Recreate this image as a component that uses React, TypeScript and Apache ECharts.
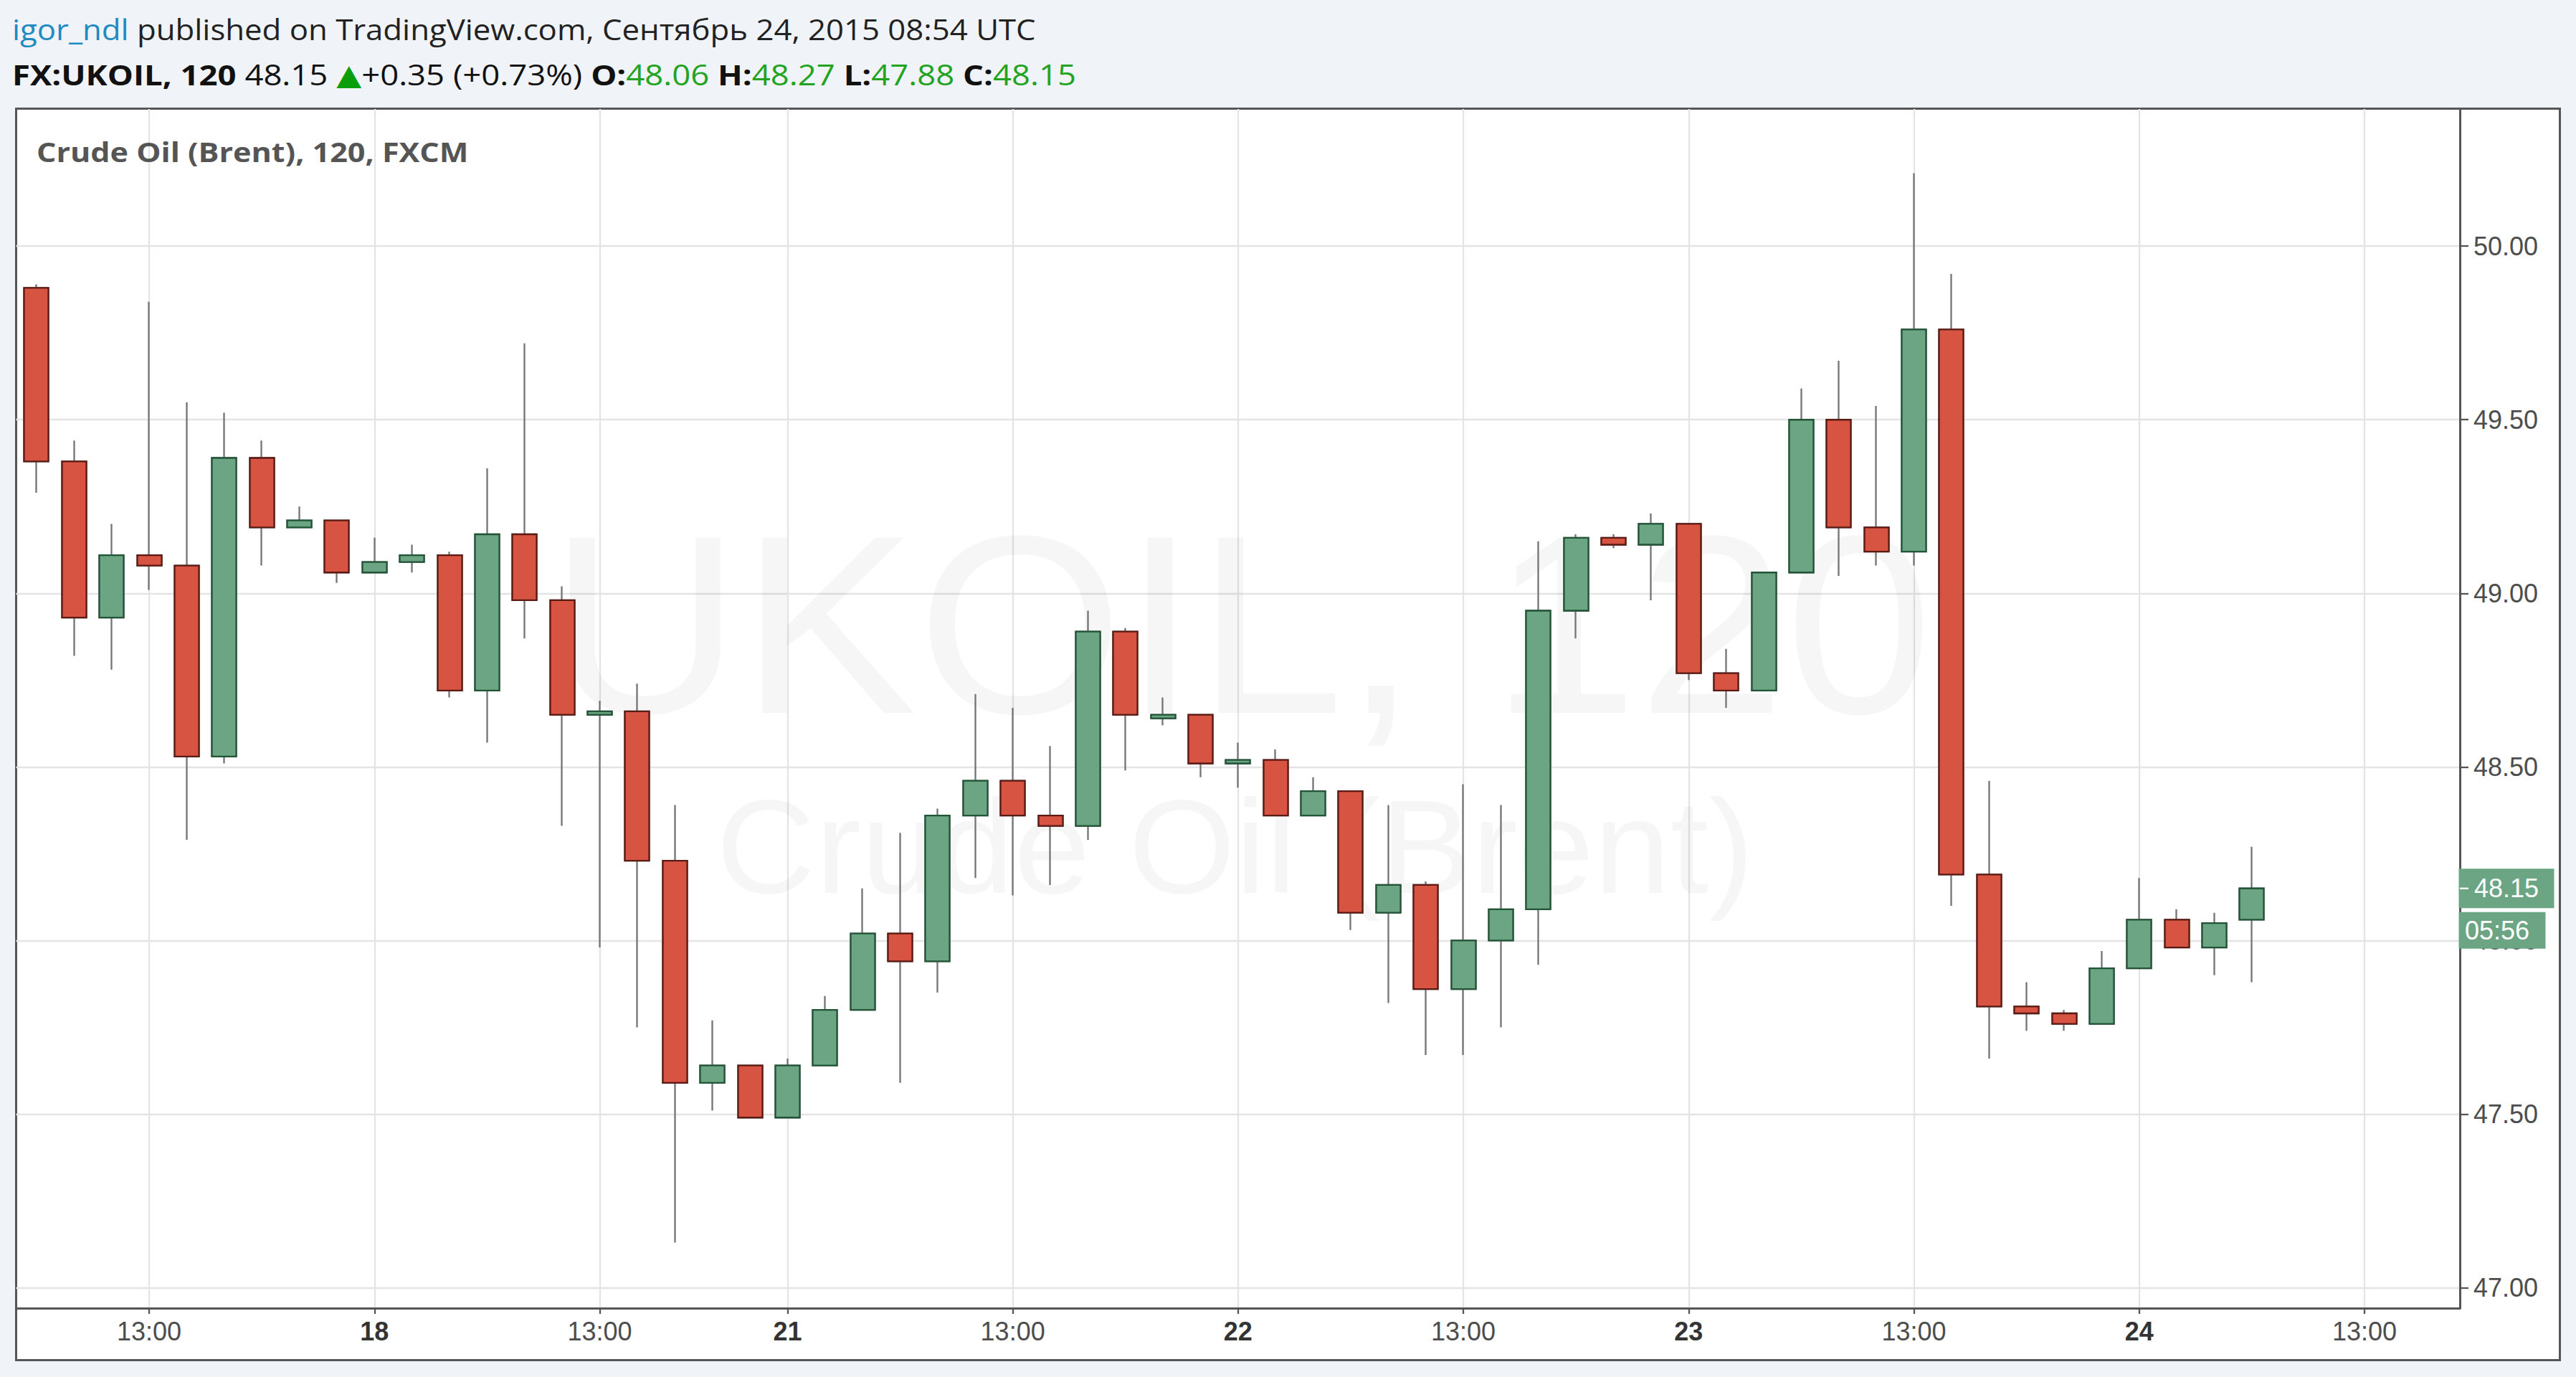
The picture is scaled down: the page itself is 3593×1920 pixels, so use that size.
import React, { useEffect, useRef } from 'react';
import * as echarts from 'echarts';

// ---- data (2h candles, FX:UKOIL) ----
const OPEN = [
  49.88, 49.38, 48.93, 49.11, 49.08, 48.53, 49.39, 49.19, 49.21, 49.06,
  49.09, 49.11, 48.72, 49.17, 48.98, 48.65, 48.66, 48.23, 47.59, 47.64,
  47.49, 47.64, 47.80, 48.02, 47.94, 48.36, 48.46, 48.36, 48.33, 48.89,
  48.64, 48.65, 48.51, 48.52, 48.36, 48.43, 48.08, 48.16, 47.86, 48.00,
  48.09, 48.95, 49.16, 49.14, 49.20, 48.77, 48.72, 49.06, 49.50, 49.19,
  49.12, 49.76, 48.19, 47.81, 47.79, 47.76, 47.92, 48.06, 47.98, 48.06,
];
const CLOSE = [
  49.38, 48.93, 49.11, 49.08, 48.53, 49.39, 49.19, 49.21, 49.06, 49.09,
  49.11, 48.72, 49.17, 48.98, 48.65, 48.66, 48.23, 47.59, 47.64, 47.49,
  47.64, 47.80, 48.02, 47.94, 48.36, 48.46, 48.36, 48.33, 48.89, 48.65,
  48.65, 48.51, 48.52, 48.36, 48.43, 48.08, 48.16, 47.86, 48.00, 48.09,
  48.95, 49.16, 49.14, 49.20, 48.77, 48.72, 49.06, 49.50, 49.19, 49.12,
  49.76, 48.19, 47.81, 47.79, 47.76, 47.92, 48.06, 47.98, 48.05, 48.15,
];
const LOW = [
  49.29, 48.82, 48.78, 49.01, 48.29, 48.51, 49.08, 49.19, 49.03, 49.06,
  49.06, 48.70, 48.57, 48.87, 48.33, 47.98, 47.75, 47.13, 47.51, 47.49,
  47.49, 47.64, 47.80, 47.59, 47.85, 48.18, 48.13, 48.16, 48.29, 48.49,
  48.62, 48.47, 48.44, 48.36, 48.36, 48.03, 47.82, 47.67, 47.67, 47.75,
  47.93, 48.87, 49.13, 48.98, 48.75, 48.67, 48.72, 49.06, 49.05, 49.08,
  49.08, 48.10, 47.66, 47.74, 47.74, 47.76, 47.92, 47.98, 47.90, 47.88,
];
const HIGH = [
  49.89, 49.44, 49.20, 49.84, 49.55, 49.52, 49.44, 49.25, 49.21, 49.16,
  49.14, 49.12, 49.36, 49.72, 49.02, 48.69, 48.74, 48.39, 47.77, 47.64,
  47.66, 47.84, 48.15, 48.31, 48.38, 48.71, 48.67, 48.56, 48.95, 48.90,
  48.70, 48.65, 48.57, 48.55, 48.47, 48.43, 48.39, 48.17, 48.45, 48.39,
  49.15, 49.17, 49.17, 49.23, 49.20, 48.84, 49.06, 49.59, 49.67, 49.54,
  50.21, 49.92, 48.46, 47.88, 47.80, 47.97, 48.18, 48.09, 48.08, 48.27,
];

// time-axis tick labels (bar index -> label)
const TICK_INDEX = [3, 9, 15, 20, 26, 32, 38, 44, 50, 56, 62];
const TICK_LABELS = ['13:00', '18', '13:00', '21', '13:00', '22', '13:00', '23', '13:00', '24', '13:00'];
const DAY_LABELS = ['18', '21', '22', '23', '24'];
const PRICE_TICKS = [47, 47.5, 48, 48.5, 49, 49.5, 50];

const X_MIN = -0.544;
const X_MAX = 64.54;
const Y_MIN = 46.941;
const Y_MAX = 50.395;

const AUTHOR = 'igor_ndl';
const PUBLISHED = 'published on TradingView.com, Сентябрь 24, 2015 08:54 UTC';
const SYMBOL = 'FX:UKOIL, 120';
const CHANGE = '+0.35 (+0.73%)';
const LEGEND = 'Crude Oil (Brent), 120, FXCM';
const COUNTDOWN = '05:56';
const WATERMARK1 = 'UKOIL, 120';
const WATERMARK2 = 'Crude Oil (Brent)';

// ---- styles ----
const UP_FILL = '#6ba583';
const UP_BORDER = '#225437';
const DOWN_FILL = '#d75442';
const DOWN_BORDER = '#5b1a13';
const WICK = '#737375';
const GRID = '#e4e4e4';
const AXIS = '#555555';
const LABEL = '#4d4d4d';
const PAGE_BG = '#f0f3f7';
const AXIS_FONT = '"Liberation Sans", Arial, sans-serif';
const HEAD_FONT = '"Open Sans", "Noto Sans", sans-serif';

export default function App() {
  const ref = useRef<HTMLDivElement>(null);

  useEffect(() => {
    if (!ref.current) return;
    const chart = echarts.init(ref.current, undefined, { renderer: 'svg' });
    const n = OPEN.length;
    const last = n - 1;
    const wickData = OPEN.map((o, i) => [i, o, CLOSE[i], LOW[i], HIGH[i]]);
    const bodyData = OPEN.map((o, i) => [i, o, CLOSE[i], Math.min(o, CLOSE[i]), Math.max(o, CLOSE[i])]);

    const option: any = {
      animation: false,
      backgroundColor: 'transparent',
      textStyle: { fontFamily: AXIS_FONT },
      grid: { left: 22.5, right: 162, top: 152, bottom: 96, containLabel: false },
      xAxis: {
        type: 'value',
        min: X_MIN,
        max: X_MAX,
        axisLine: { show: true, onZero: false, lineStyle: { color: AXIS, width: 3 } },
        axisTick: { show: true, length: 8, customValues: TICK_INDEX, lineStyle: { color: AXIS, width: 2.3 } },
        axisLabel: {
          customValues: TICK_INDEX,
          margin: 14,
          fontSize: 36,
          color: LABEL,
          fontFamily: AXIS_FONT,
          formatter: (v: number) => {
            const k = TICK_INDEX.indexOf(Math.round(v));
            if (k < 0) return '';
            const t = TICK_LABELS[k];
            return DAY_LABELS.indexOf(t) >= 0 ? '{d|' + t + '}' : t;
          },
          rich: { d: { fontSize: 36, fontWeight: 'bold', color: '#333333', fontFamily: AXIS_FONT } },
        },
        splitLine: { show: true, lineStyle: { color: GRID, width: 2.3 } },
      },
      yAxis: {
        type: 'value',
        position: 'right',
        min: Y_MIN,
        max: Y_MAX,
        axisLine: { show: true, onZero: false, lineStyle: { color: AXIS, width: 3 } },
        axisTick: { show: true, length: 12, customValues: PRICE_TICKS, lineStyle: { color: AXIS, width: 2.3 } },
        axisLabel: {
          customValues: PRICE_TICKS,
          margin: 19,
          fontSize: 36,
          color: LABEL,
          fontFamily: AXIS_FONT,
          formatter: (v: number) => (Math.abs(v * 2 - Math.round(v * 2)) < 1e-6 ? v.toFixed(2) : ''),
        },
        splitLine: { show: true, lineStyle: { color: GRID, width: 2.3 } },
      },
      series: [
        {
          type: 'candlestick',
          data: wickData,
          barWidth: 34.5,
          silent: true,
          z: 2,
          itemStyle: { color: UP_FILL, color0: DOWN_FILL, borderColor: WICK, borderColor0: WICK, borderColorDoji: WICK, borderWidth: 2.3 },
        },
        {
          type: 'candlestick',
          data: bodyData,
          barWidth: 34.5,
          silent: true,
          z: 3,
          itemStyle: { color: UP_FILL, color0: DOWN_FILL, borderColor: UP_BORDER, borderColor0: DOWN_BORDER, borderColorDoji: UP_BORDER, borderWidth: 2.3 },
        },
      ],
    };
    chart.setOption(option);

    const yLast = chart.convertToPixel({ yAxisIndex: 0 }, CLOSE[last]) as number;
    const axisX = chart.convertToPixel({ xAxisIndex: 0 }, X_MAX) as number;
    const fmt = (v: number) => v.toFixed(2);

    const graphic: any[] = [
      // watermark
      {
        type: 'text', x: 1731, y: 871, z: 0, silent: true, scaleX: 1.04, originX: 0,
        style: { text: WATERMARK1, fill: 'rgba(0,0,0,0.035)', fontSize: 355, fontFamily: AXIS_FONT, align: 'center', verticalAlign: 'middle' },
      },
      {
        type: 'text', x: 1723, y: 1180, z: 0, silent: true, scaleX: 1.03,
        style: { text: WATERMARK2, fill: 'rgba(0,0,0,0.035)', fontSize: 186, fontFamily: AXIS_FONT, align: 'center', verticalAlign: 'middle' },
      },
      // header line 1
      {
        type: 'text', x: 17, y: 40, z: 20, scaleX: 1.093,
        style: {
          text: '{u|' + AUTHOR + '}{t| ' + PUBLISHED + '}',
          fontSize: 40, fontFamily: HEAD_FONT, fill: '#222222', align: 'left', verticalAlign: 'middle',
          rich: {
            u: { fill: '#1e8bc3', fontSize: 40, fontFamily: HEAD_FONT },
            t: { fill: '#222222', fontSize: 40, fontFamily: HEAD_FONT },
          },
        },
      },
      // header line 2
      {
        type: 'text', x: 17, y: 104, z: 20, scaleX: 1.137,
        style: {
          text:
            '{b|' + SYMBOL + '}{n| ' + fmt(CLOSE[last]) + ' }{tri|▲}{n|' + CHANGE + ' }' +
            '{b|O:}{g|' + fmt(OPEN[last]) + ' }{b|H:}{g|' + fmt(HIGH[last]) + ' }' +
            '{b|L:}{g|' + fmt(LOW[last]) + ' }{b|C:}{g|' + fmt(CLOSE[last]) + '}',
          fontSize: 40, fontFamily: HEAD_FONT, fill: '#111111', align: 'left', verticalAlign: 'middle',
          rich: {
            b: { fill: '#111111', fontSize: 40, fontWeight: 'bold', fontFamily: HEAD_FONT },
            n: { fill: '#111111', fontSize: 40, fontFamily: HEAD_FONT },
            g: { fill: '#22a322', fontSize: 40, fontFamily: HEAD_FONT },
            tri: { fill: '#0a9e0a', fontSize: 40, fontFamily: '"DejaVu Sans", sans-serif' },
          },
        },
      },
      // legend inside the pane
      {
        type: 'text', x: 51, y: 212, z: 20, scaleX: 1.134,
        style: { text: LEGEND, fontSize: 38, fontWeight: 'bold', fontFamily: HEAD_FONT, fill: '#555555', align: 'left', verticalAlign: 'middle' },
      },
      // last price box
      {
        type: 'rect', z: 30, silent: true,
        shape: { x: axisX - 1.5, y: yLast - 27.5, width: 133, height: 55 },
        style: { fill: UP_FILL },
      },
      {
        type: 'line', z: 31, silent: true,
        shape: { x1: axisX, y1: yLast, x2: axisX + 12, y2: yLast },
        style: { stroke: '#ffffff', lineWidth: 2.3 },
      },
      {
        type: 'text', x: axisX + 20, y: yLast, z: 31,
        style: { text: fmt(CLOSE[last]), fontSize: 36, fontFamily: AXIS_FONT, fill: '#ffffff', align: 'left', verticalAlign: 'middle' },
      },
      // countdown box
      {
        type: 'rect', z: 30, silent: true,
        shape: { x: axisX - 1.5, y: yLast + 33, width: 121, height: 51 },
        style: { fill: UP_FILL },
      },
      {
        type: 'text', x: axisX + 7, y: yLast + 58.5, z: 31,
        style: { text: COUNTDOWN, fontSize: 36, fontFamily: AXIS_FONT, fill: '#ffffff', align: 'left', verticalAlign: 'middle' },
      },
    ];
    chart.setOption({ graphic: { elements: graphic } });

    return () => chart.dispose();
  }, []);

  return (
    <div style={{ position: 'fixed', left: 0, top: 0, width: 3593, height: 1920, background: PAGE_BG, overflow: 'hidden' }}>
      <div
        style={{
          position: 'absolute', left: 21, top: 150.2, width: 3550.5, height: 1748,
          border: '3px solid #555555', background: '#ffffff', boxSizing: 'border-box',
        }}
      />
      <div ref={ref} style={{ position: 'absolute', left: 0, top: 0, width: 3593, height: 1920 }} />
    </div>
  );
}
